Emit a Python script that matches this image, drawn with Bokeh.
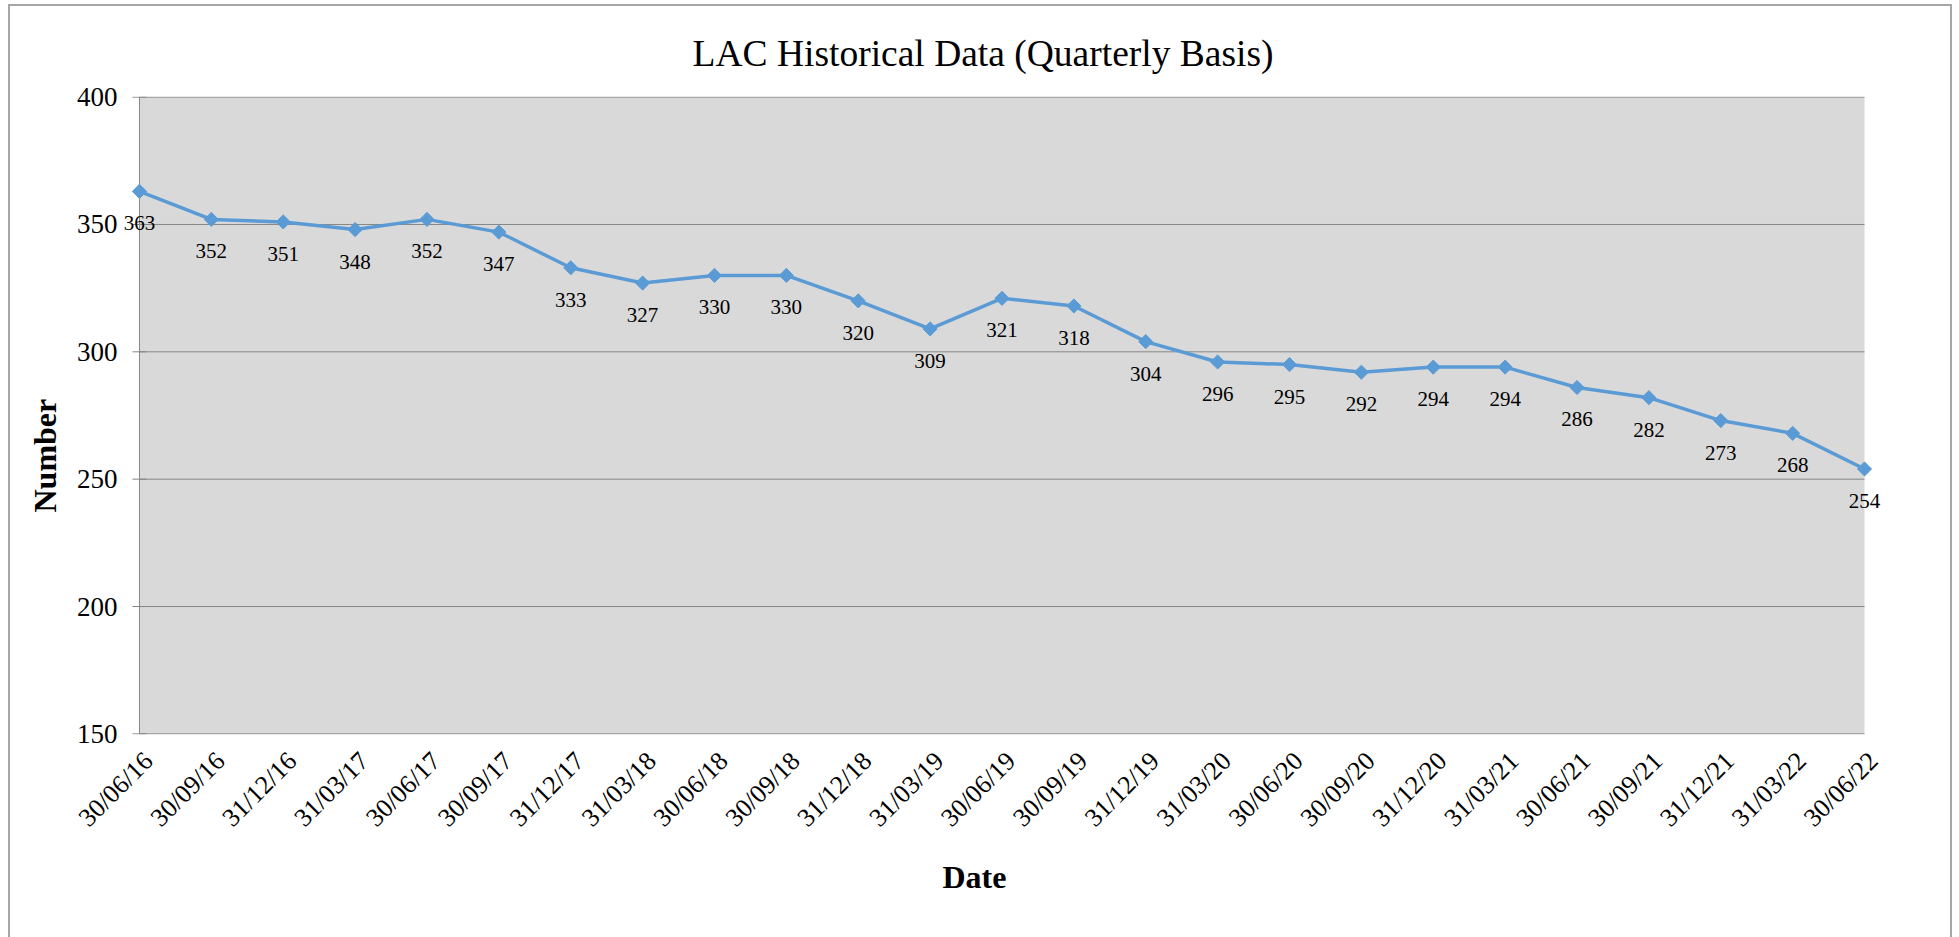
import numpy as np
from bokeh.plotting import figure
from bokeh.models import Range1d, FixedTicker, Title, ColumnDataSource
from bokeh.embed import file_html
from bokeh.resources import INLINE
from bokeh.core.properties import value

dates = ["30/06/16", "30/09/16", "31/12/16", "31/03/17", "30/06/17", "30/09/17",
         "31/12/17", "31/03/18", "30/06/18", "30/09/18", "31/12/18", "31/03/19",
         "30/06/19", "30/09/19", "31/12/19", "31/03/20", "30/06/20", "30/09/20",
         "31/12/20", "31/03/21", "30/06/21", "30/09/21", "31/12/21", "31/03/22",
         "30/06/22"]
counts = [363, 352, 351, 348, 352, 347, 333, 327, 330, 330, 320, 309, 321, 318,
          304, 296, 295, 292, 294, 294, 286, 282, 273, 268, 254]
y_ticks = [150, 200, 250, 300, 350, 400]

FONT = "Liberation Serif"
GRAY = "#868686"
BLUE = "#5B9BD5"
PLOT_BG = "#D9D9D9"

n = len(dates)
xs = list(range(n))
src = ColumnDataSource(dict(x=xs, y=counts, label=[str(c) for c in counts]))

# a little room round the plot area so end labels and edge lines are not clipped
pad = 0.25
pady = 0.25
p = figure(width=1944, height=933, output_backend="svg", toolbar_location=None,
           x_range=Range1d(xs[0] - pad, xs[-1] + pad),
           y_range=Range1d(y_ticks[0] - pady, y_ticks[-1] + pady),
           min_border_left=111, min_border_right=72, min_border_top=90,
           min_border_bottom=205)
p.margin = (4, 0, 0, 8)
p.border_fill_color = "#ffffff"
p.background_fill_color = "#ffffff"
p.outline_line_color = None
p.styles = {"border-left": "2px solid #a6a6a6", "border-top": "2px solid #a6a6a6",
            "border-right": "2px solid #a6a6a6", "box-sizing": "border-box"}

# plot area, horizontal gridlines, value-axis line and its outward ticks
p.quad(left=xs[0], right=xs[-1], bottom=y_ticks[0], top=y_ticks[-1],
       fill_color=PLOT_BG, line_color=None)
p.segment(x0=[xs[0]] * len(y_ticks), x1=[xs[-1]] * len(y_ticks),
          y0=y_ticks, y1=y_ticks, line_color=GRAY, line_width=1)
p.segment(x0=[xs[0]], x1=[xs[0]], y0=[y_ticks[0]], y1=[y_ticks[-1]],
          line_color=GRAY, line_width=1)
p.scatter(x=[xs[0]] * len(y_ticks), y=y_ticks, marker="dash", size=14,
          line_color=GRAY, line_width=1)

p.line("x", "y", source=src, line_color=BLUE, line_width=3.5)
p.scatter("x", "y", source=src, marker="square", angle=np.pi / 4, size=10,
          fill_color=BLUE, line_color=BLUE)
p.text("x", "y", text="label", source=src, text_font=value(FONT),
       text_font_size="21px", text_align="center", text_baseline="middle",
       y_offset=32, text_color="#000000")

# y axis: labels only
p.yaxis.ticker = FixedTicker(ticks=y_ticks)
p.yaxis.axis_line_color = None
p.yaxis.major_tick_out = 0
p.yaxis.major_tick_in = 0
p.yaxis.minor_tick_out = 0
p.yaxis.minor_tick_in = 0
p.yaxis.major_label_text_font = FONT
p.yaxis.major_label_text_font_size = "27px"
p.yaxis.major_label_text_color = "#000000"
p.yaxis.major_label_standoff = 4
p.ygrid.visible = False
p.xgrid.visible = False

# x axis: label anchors nudged right like the reference
shift = 0.125
xt = [i + shift for i in xs]
p.xaxis.ticker = FixedTicker(ticks=xt)
p.xaxis.major_label_overrides = {t: d for t, d in zip(xt, dates)}
p.xaxis.major_label_orientation = np.pi / 4
p.xaxis.axis_line_color = None
p.xaxis.major_tick_out = 0
p.xaxis.major_tick_in = 0
p.xaxis.minor_tick_out = 0
p.xaxis.minor_tick_in = 0
p.xaxis.major_label_text_font = FONT
p.xaxis.major_label_text_font_size = "26px"
p.xaxis.major_label_text_color = "#000000"
p.xaxis.major_label_standoff = 22

# titles
p.title.text = "LAC Historical Data (Quarterly Basis)"
p.title.align = "left"
p.title.offset = 571
p.title.text_font = FONT
p.title.text_font_size = "37.5px"
p.title.text_font_style = "normal"
p.title.text_color = "#000000"
p.title.standoff = 45

p.add_layout(Title(text="Date", align="left", offset=821, text_font=FONT,
                   text_font_size="32px", text_font_style="bold",
                   text_color="#000000", standoff=22), "below")
p.add_layout(Title(text="Number", align="left", offset=222, text_font=FONT,
                   text_font_size="32px", text_font_style="bold",
                   text_color="#000000", standoff=22), "left")

open("out.html", "w").write(file_html(p, INLINE))
